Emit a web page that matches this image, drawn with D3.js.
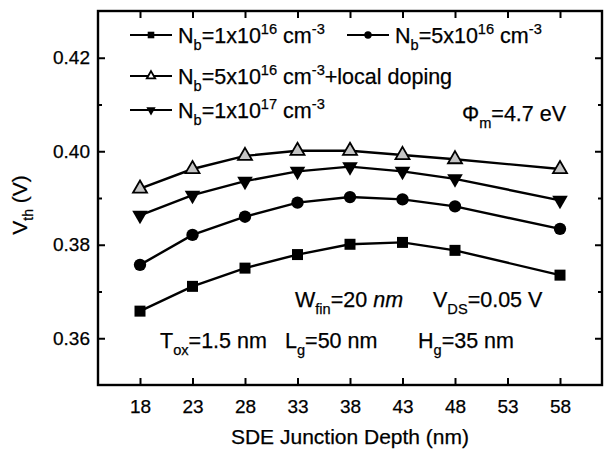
<!DOCTYPE html>
<html lang="en">
  <head>
    <meta charset="UTF-8" />
    <title>Vth vs SDE junction depth</title>
    <style>
      body { margin: 0; background: #fff; }
      svg text { font-family: "Liberation Sans", Arial, sans-serif; fill: #000; stroke: #000; stroke-width: 0.25; }
    </style>
  </head>
  <body>
    <script src="https://d3js.org/d3.v7.min.js"></script>
    <script>
      // junction depth (nm)
      const depth = [18, 23, 28, 33, 38, 43, 48, 58];
      // Vth (V) per doping case
      const vthNb1e16 = [0.3658, 0.3711, 0.375, 0.3779, 0.3801, 0.3805, 0.3788, 0.3735];
      const vthNb5e16 = [0.3757, 0.3821, 0.386, 0.389, 0.3902, 0.3897, 0.3882, 0.3834];
      const vthNb5e16Local = [0.392, 0.3962, 0.399, 0.4001, 0.4001, 0.3992, 0.3983, 0.3962];
      const vthNb1e17 = [0.3863, 0.3906, 0.3936, 0.3957, 0.3967, 0.3957, 0.3941, 0.3895];

      const xTicks = [18, 23, 28, 33, 38, 43, 48, 53, 58];
      const yTicks = [0.36, 0.38, 0.4, 0.42];
      const yMinor = [0.37, 0.39, 0.41];

      const series = [
        { key: "nb1e16", values: vthNb1e16, shape: "square" },
        { key: "nb5e16", values: vthNb5e16, shape: "circle" },
        { key: "nb5e16local", values: vthNb5e16Local, shape: "up" },
        { key: "nb1e17", values: vthNb1e17, shape: "down" },
      ];

      const width = 605;
      const height = 452;
      const margin = { top: 11, right: 3, bottom: 67, left: 98 };

      const svg = d3
        .select("body")
        .append("svg")
        .attr("width", width)
        .attr("height", height);

      const xScale = d3
        .scaleLinear()
        .domain([14, 62])
        .range([margin.left, width - margin.right]);

      const yScale = d3
        .scaleLinear()
        .domain([0.35, 0.43])
        .range([height - margin.bottom, margin.top]);

      function marker(sel, shape, big) {
        const k = big ? 1 : 0.6;
        if (shape === "square") {
          sel.append("path").attr("d", d3.symbol(d3.symbolSquare, 121 * k * k)()).attr("fill", "#000");
        } else if (shape === "circle") {
          sel.append("path").attr("d", d3.symbol(d3.symbolCircle, 120 * k * k)()).attr("fill", "#000");
        } else if (shape === "up") {
          sel
            .append("path")
            .attr("d", d3.symbol(d3.symbolTriangle, 85 * k * k)())
            .attr("fill", big ? "#c4c4c4" : "#fff")
            .attr("stroke", "#000")
            .attr("stroke-width", 1.8);
        } else {
          sel
            .append("path")
            .attr("d", d3.symbol(d3.symbolTriangle, 105 * k * k)())
            .attr("transform", "rotate(180)")
            .attr("fill", "#000");
        }
      }

      // rich text with sub/superscripts
      function richText(x, y, parts, size) {
        const t = svg.append("text").attr("x", x).attr("y", y).attr("font-size", size);
        let off = 0;
        parts.forEach((p) => {
          const target = p.s === "sub" ? size * 0.32 : p.s === "sup" ? -size * 0.42 : 0;
          t.append("tspan")
            .attr("dy", target - off)
            .attr("font-size", p.s ? size * 0.68 : size)
            .attr("font-style", p.i ? "italic" : null)
            .text(p.t);
          off = target;
        });
        return t;
      }

      // lines
      const line = d3
        .line()
        .x((d) => xScale(d[0]))
        .y((d) => yScale(d[1]));

      series.forEach((s) => {
        const pts = depth.map((d, i) => [d, s.values[i]]);
        svg
          .append("path")
          .attr("d", line(pts))
          .attr("fill", "none")
          .attr("stroke", "#000")
          .attr("stroke-width", 2.4);
        svg
          .append("g")
          .selectAll("g")
          .data(pts)
          .join("g")
          .attr("transform", (d) => `translate(${xScale(d[0])},${yScale(d[1])})`)
          .each(function () {
            marker(d3.select(this), s.shape, true);
          });
      });

      // axes, ticks inward on all four sides
      const plotH = height - margin.bottom - margin.top;
      const plotW = width - margin.right - margin.left;

      svg
        .append("g")
        .attr("transform", `translate(0,${height - margin.bottom})`)
        .call(d3.axisBottom(xScale).tickValues(xTicks).tickSizeInner(-7).tickSizeOuter(0).tickPadding(15))
        .call((g) => g.select(".domain").remove())
        .call((g) => g.selectAll("text").attr("font-size", 19).attr("font-family", null));

      svg
        .append("g")
        .attr("transform", `translate(0,${margin.top})`)
        .call(d3.axisTop(xScale).tickValues(xTicks).tickSizeInner(-7).tickSizeOuter(0).tickFormat(""))
        .call((g) => g.select(".domain").remove());

      svg
        .append("g")
        .attr("transform", `translate(${margin.left},0)`)
        .call(d3.axisLeft(yScale).tickValues(yTicks).tickSizeInner(-7).tickSizeOuter(0).tickPadding(8).tickFormat(d3.format(".2f")))
        .call((g) => g.select(".domain").remove())
        .call((g) => g.selectAll("text").attr("font-size", 19).attr("font-family", null));

      svg
        .append("g")
        .attr("transform", `translate(${margin.left},0)`)
        .call(d3.axisLeft(yScale).tickValues(yMinor).tickSizeInner(-4).tickSizeOuter(0).tickFormat(""))
        .call((g) => g.select(".domain").remove());

      svg
        .append("g")
        .attr("transform", `translate(${width - margin.right},0)`)
        .call(d3.axisRight(yScale).tickValues(yTicks).tickSizeInner(-7).tickSizeOuter(0).tickFormat(""))
        .call((g) => g.select(".domain").remove());

      svg
        .append("g")
        .attr("transform", `translate(${width - margin.right},0)`)
        .call(d3.axisRight(yScale).tickValues(yMinor).tickSizeInner(-4).tickSizeOuter(0).tickFormat(""))
        .call((g) => g.select(".domain").remove());

      svg.selectAll(".tick line").attr("stroke-width", 2);

      svg
        .append("rect")
        .attr("x", margin.left)
        .attr("y", margin.top)
        .attr("width", plotW)
        .attr("height", plotH)
        .attr("fill", "none")
        .attr("stroke", "#000")
        .attr("stroke-width", 2.4);

      // axis titles
      svg
        .append("text")
        .attr("x", (margin.left + width - margin.right) / 2)
        .attr("y", 444)
        .attr("text-anchor", "middle")
        .attr("font-size", 21)
        .text("SDE Junction Depth (nm)");

      const yt = svg
        .append("text")
        .attr("transform", "translate(27,205) rotate(-90)")
        .attr("text-anchor", "middle")
        .attr("font-size", 21);
      yt.append("tspan").text("V");
      yt.append("tspan").attr("dy", 6).attr("font-size", 14).text("th");
      yt.append("tspan").attr("dy", -6).text(" (V)");

      // legend
      const legend = [
        { shape: "square", x: 130, y: 35, parts: [{ t: "N" }, { t: "b", s: "sub" }, { t: "=1x10" }, { t: "16", s: "sup" }, { t: " cm" }, { t: "-3", s: "sup" }] },
        { shape: "circle", x: 347, y: 35, parts: [{ t: "N" }, { t: "b", s: "sub" }, { t: "=5x10" }, { t: "16", s: "sup" }, { t: " cm" }, { t: "-3", s: "sup" }] },
        { shape: "up", x: 130, y: 76, parts: [{ t: "N" }, { t: "b", s: "sub" }, { t: "=5x10" }, { t: "16", s: "sup" }, { t: " cm" }, { t: "-3", s: "sup" }, { t: "+local doping" }] },
        { shape: "down", x: 130, y: 110, parts: [{ t: "N" }, { t: "b", s: "sub" }, { t: "=1x10" }, { t: "17", s: "sup" }, { t: " cm" }, { t: "-3", s: "sup" }] },
      ];

      legend.forEach((e) => {
        const g = svg.append("g").attr("transform", `translate(${e.x},${e.y})`);
        g.append("line").attr("x1", 0).attr("x2", 42).attr("stroke", "#000").attr("stroke-width", 2);
        marker(g.append("g").attr("transform", "translate(21,0)"), e.shape, false);
        richText(e.x + 48, e.y + 8, e.parts, 21.5);
      });

      // annotations
      richText(462, 121, [{ t: "\u03A6" }, { t: "m", s: "sub" }, { t: "=4.7 eV" }], 21.5);
      richText(295, 307, [{ t: "W" }, { t: "fin", s: "sub" }, { t: "=20 " }, { t: "nm", i: true }], 21.5);
      richText(433, 307, [{ t: "V" }, { t: "DS", s: "sub" }, { t: "=0.05 V" }], 21.5);
      richText(160, 348, [{ t: "T" }, { t: "ox", s: "sub" }, { t: "=1.5 nm" }], 21.5);
      richText(285, 348, [{ t: "L" }, { t: "g", s: "sub" }, { t: "=50 nm" }], 21.5);
      richText(418, 348, [{ t: "H" }, { t: "g", s: "sub" }, { t: "=35 nm" }], 21.5);
    </script>
  </body>
</html>
